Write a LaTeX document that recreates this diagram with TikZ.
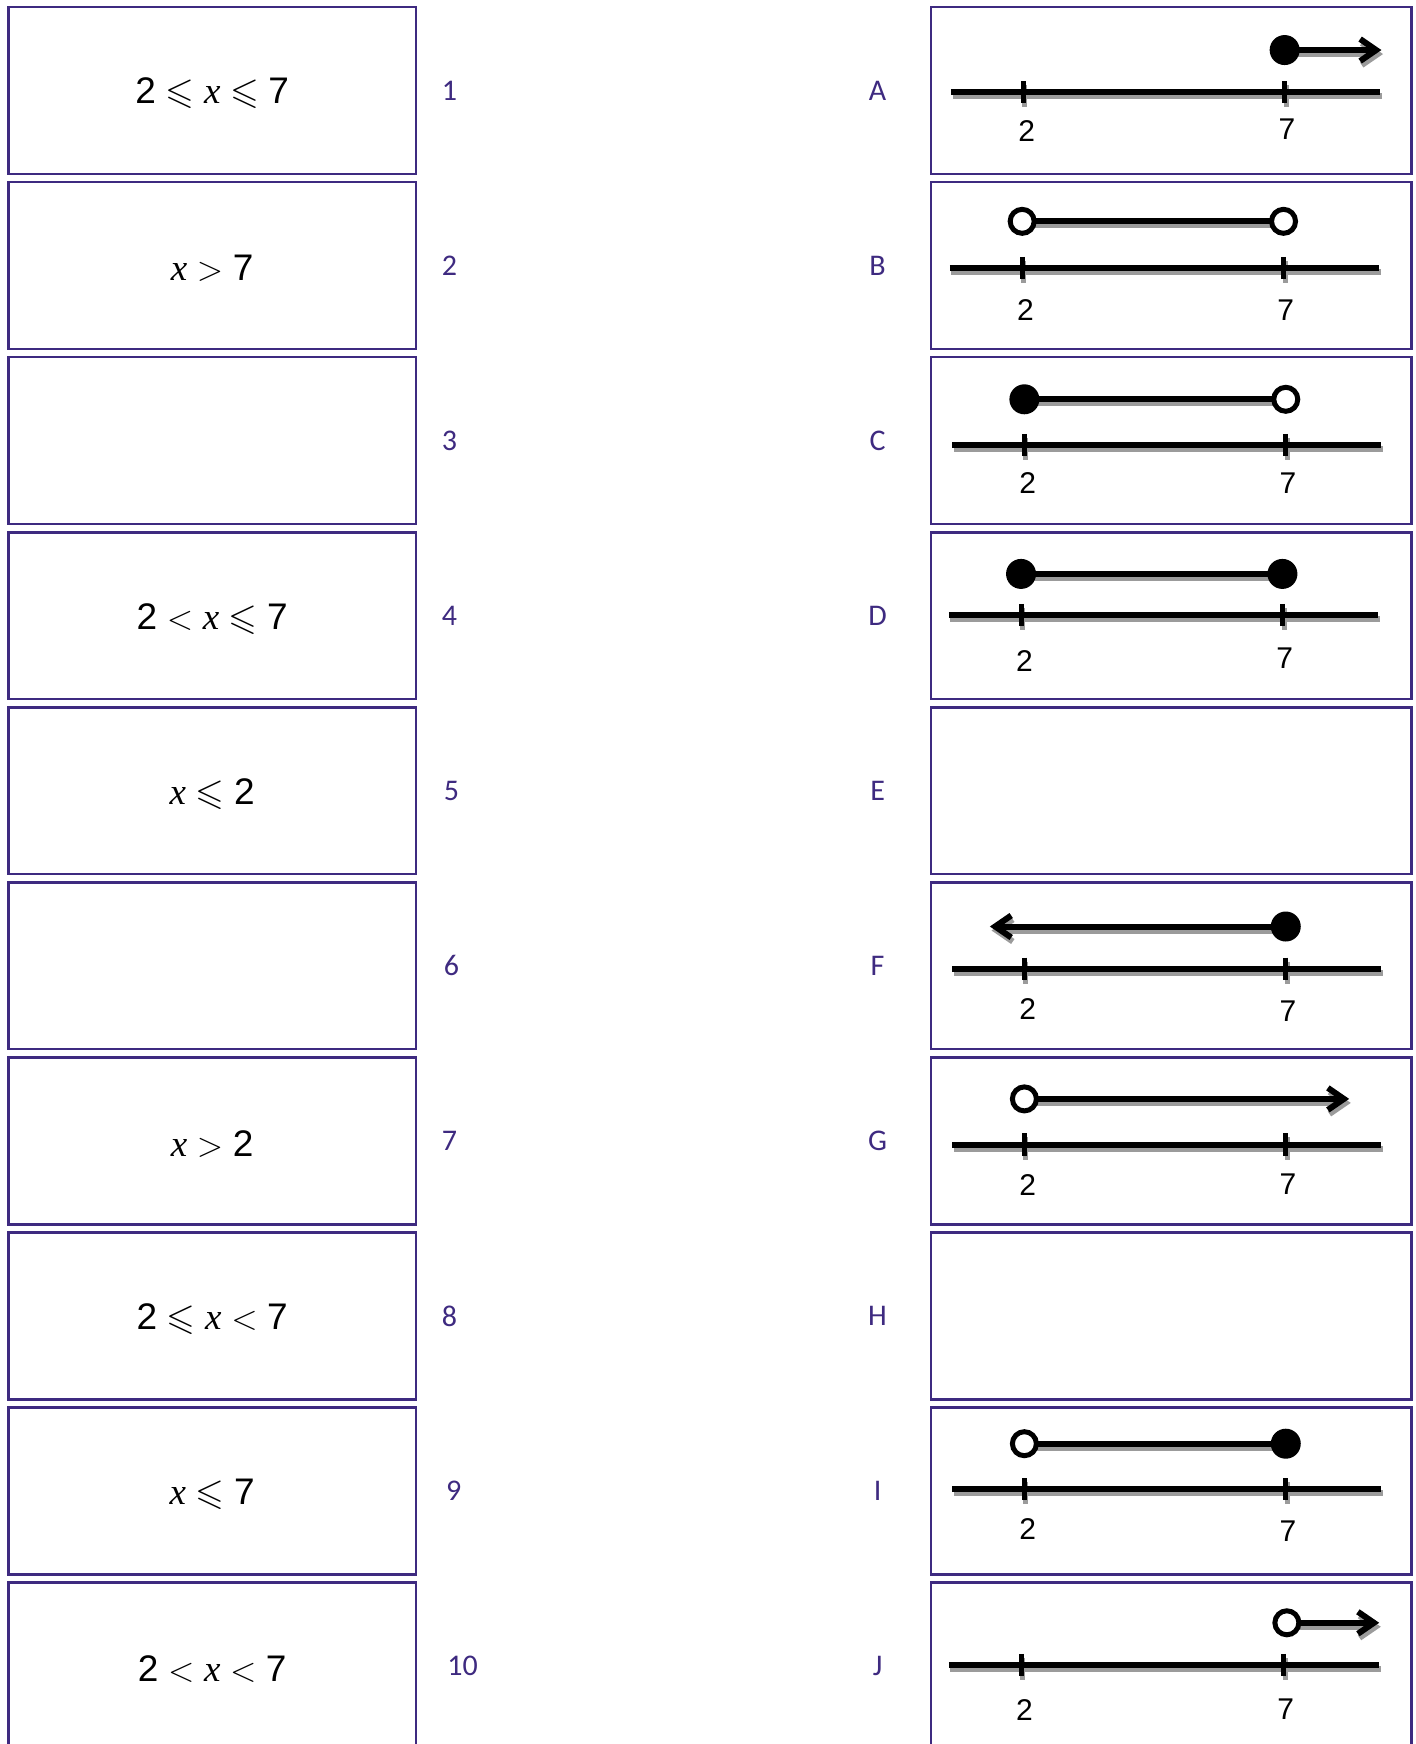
\documentclass[tikz,border=0pt]{standalone}
\usepackage{fontspec}
\usepackage{amssymb}
\setmainfont{Liberation Sans}
\newfontfamily\tagfont{Carlito}
\newfontfamily\varfont{Liberation Serif}
\usetikzlibrary{arrows.meta}
\definecolor{frame}{RGB}{62,42,128}
\definecolor{shade}{RGB}{155,155,155}

% italic variable and inequality helpers
\newcommand\vx{\mbox{\varfont\itshape x}}
\newcommand\dg[1]{\mbox{#1}}

% a number line with ticks at 2 and 7: #1 x of 2, #2 x of 7, #3 y of line, #4/#5 y of labels
\newcommand\nlaxis[5]{%
  \draw[shadowline,transform canvas={xshift=0.8pt,yshift=-2pt}] (#1-65,#3) -- (#2+86,#3);
  \draw[shadowline,line width=2.5pt,transform canvas={xshift=0.8pt,yshift=-2pt}]
    (#1,#3-10) -- (#1,#3+10) (#2,#3-10) -- (#2,#3+10);
  \draw[axisline] (#1-65,#3) -- (#2+86,#3);
  \draw[tickmark] (#1,#3-10) -- (#1,#3+10) (#2,#3-10) -- (#2,#3+10);
  \node[ticklabel] at (#1+3,#4) {2};
  \node[ticklabel] at (#2+2,#5) {7};
}
% a thick segment with its grey shadow: #1 options, #2 start, #3 end
\newcommand\shseg[3]{%
  \draw[shadowline,#1,transform canvas={xshift=0.8pt,yshift=-2pt}] (#2) -- (#3);
  \draw[axisline,#1] (#2) -- (#3);
}

\begin{document}
\begin{tikzpicture}[x=0.55617pt,y=-0.55617pt,
  cardbox/.style={draw=frame,line width=1.3pt,inner sep=0pt},
  leftcard/.style={cardbox,minimum width=203.8pt,minimum height=83.4pt},
  rightcard/.style={cardbox,minimum width=240.3pt,minimum height=83.4pt},
  ineq/.style={font=\fontsize{18.5}{20}\selectfont,yshift=-1.5pt},
  tag/.style={text=frame,font=\tagfont\fontsize{15}{17}\selectfont},
  axisline/.style={line width=3pt,draw=black},
  shadowline/.style={line width=3pt,draw=shade},
  tickmark/.style={line width=2.5pt},
  ticklabel/.style={font=\fontsize{15}{17}\selectfont},
  ray/.style={-{Straight Barb[length=8pt,width=11pt]}},
  closeddot/.style={circle,fill=black,inner sep=0pt,minimum size=15pt},
  opendot/.style={circle,draw=black,fill=white,line width=2.5pt,inner sep=0pt,minimum size=12pt},
]
\useasboundingbox (0,0) rectangle (1273,1568);

% ---- left column: cards with inequalities ----
\foreach \i/\y in {1/81.3,2/238.7,3/396.1,4/553.5,5/710.9,6/868.3,7/1025.7,8/1183.1,9/1340.5,10/1497.9}
  \node[leftcard] (L\i) at (190.8,\y) {};
\node[ineq] (Q1)  at (L1)  {$\dg{2}\leqslant\vx\leqslant\dg{7}$};
\node[ineq] (Q2)  at (L2)  {$\vx>\dg{7}$};
\node[ineq] (Q4)  at (L4)  {$\dg{2}<\vx\leqslant\dg{7}$};
\node[ineq] (Q5)  at (L5)  {$\vx\leqslant\dg{2}$};
\node[ineq] (Q7)  at (L7)  {$\vx>\dg{2}$};
\node[ineq] (Q8)  at (L8)  {$\dg{2}\leqslant\vx<\dg{7}$};
\node[ineq] (Q9)  at (L9)  {$\vx\leqslant\dg{7}$};
\node[ineq] (Q10) at (L10) {$\dg{2}<\vx<\dg{7}$};

% ---- numbers and letters ----
\foreach \n/\x/\y in {1/404/81.3,2/404/238.7,3/404/396.1,4/404/553.5,5/406/710.9,
                      6/406/868.3,7/404/1025.7,8/404/1183.1,9/408/1340.5,10/416/1497.9}
  \node[tag] (N\n) at (\x,\y) {\n};
\foreach \c/\y in {A/81.3,B/238.7,C/396.1,D/553.5,E/710.9,F/868.3,G/1025.7,H/1183.1,I/1340.5,J/1497.9}
  \node[tag] (T\c) at (789,\y) {\c};

% ---- right column: number lines ----
\foreach \c/\y in {A/81.3,B/238.7,C/396.1,D/553.5,E/710.9,F/868.3,G/1025.7,H/1183.1,I/1340.5,J/1497.9}
  \node[rightcard] (R\c) at (1053,\y) {};

% A: x >= 7
\nlaxis{920}{1155}{83}{118}{116}
\coordinate (Aa) at (1155,45); \coordinate (Ab) at (1242,45);
\shseg{ray}{Aa}{Ab}
\node[closeddot] (Ad) at (Aa) {};

% B: 2 < x < 7
\nlaxis{919}{1154}{241}{279}{279}
\coordinate (Ba) at (919,199); \coordinate (Bb) at (1154,199);
\shseg{}{Ba}{Bb}
\node[opendot] (Bd1) at (Ba) {};
\node[opendot] (Bd2) at (Bb) {};

% C: 2 <= x < 7
\nlaxis{921}{1156}{400}{434}{434}
\coordinate (Ca) at (921,359); \coordinate (Cb) at (1156,359);
\shseg{}{Ca}{Cb}
\node[closeddot] (Cd1) at (Ca) {};
\node[opendot] (Cd2) at (Cb) {};

% D: 2 <= x <= 7
\nlaxis{918}{1153}{553}{594}{592}
\coordinate (Da) at (918,516); \coordinate (Db) at (1153,516);
\shseg{}{Da}{Db}
\node[closeddot] (Dd1) at (Da) {};
\node[closeddot] (Dd2) at (Db) {};

% F: x <= 7
\nlaxis{921}{1156}{871}{907}{909}
\coordinate (Fa) at (1156,833); \coordinate (Fb) at (890,833);
\shseg{ray}{Fa}{Fb}
\node[closeddot] (Fd) at (Fa) {};

% G: x > 2
\nlaxis{921}{1156}{1029}{1065}{1065}
\coordinate (Ga) at (921,988); \coordinate (Gb) at (1213,988);
\shseg{ray}{Ga}{Gb}
\node[opendot] (Gd) at (Ga) {};

% I: 2 < x <= 7
\nlaxis{921}{1156}{1339}{1375}{1377}
\coordinate (Ia) at (921,1298); \coordinate (Ib) at (1156,1298);
\shseg{}{Ia}{Ib}
\node[opendot] (Id1) at (Ia) {};
\node[closeddot] (Id2) at (Ib) {};

% J: x > 7
\nlaxis{918}{1154}{1497}{1537}{1537}
\coordinate (Ja) at (1157,1459); \coordinate (Jb) at (1240,1459);
\shseg{ray}{Ja}{Jb}
\node[opendot] (Jd) at (Ja) {};
\end{tikzpicture}
\end{document}
